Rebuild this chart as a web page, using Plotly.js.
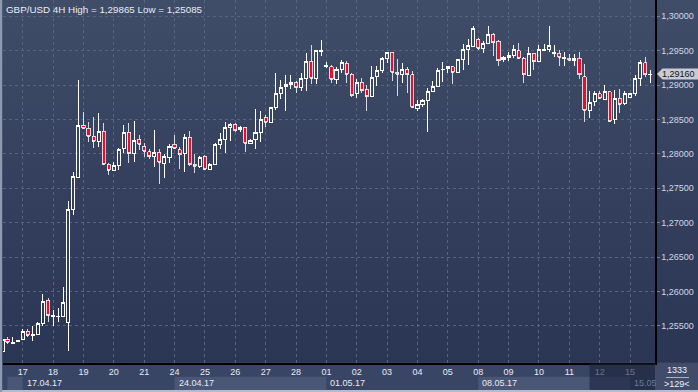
<!DOCTYPE html>
<html>
<head>
<meta charset="utf-8">
<script src="https://cdn.plot.ly/plotly-3.0.1.min.js"></script>
<style>
  html, body { margin: 0; padding: 0; background: #394564; }
  #wrap { position: relative; width: 698px; height: 392px; overflow: hidden;
    background: linear-gradient(180deg, #404d68 0px, #34405d 180px, #2a3653 362px, #394564 363px, #394564 390px, #b4bcc9 390px, #b4bcc9 392px); }
  #chart { position: absolute; left: 0; top: 0; width: 698px; height: 392px; }
  #chart .plot path, #chart .boxlayer path { shape-rendering: crispEdges !important; }
</style>
</head>
<body>
<div id="wrap"><div id="chart"></div></div>
<script>
// ---- data (GBP/USD, 4H candles, 129 bars) ----
const openP = [
1.25121, 1.25305, 1.25247, 1.25278, 1.25305, 1.25426, 1.25363, 1.25372, 1.25538, 1.25876,
1.25640, 1.25634, 1.25634, 1.25547, 1.27189, 1.27664, 1.28416, 1.28372, 1.28260, 1.28183,
1.28328, 1.27849, 1.27766, 1.27834, 1.28081, 1.28318, 1.28009, 1.28212, 1.28115, 1.28028,
1.27959, 1.28023, 1.27858, 1.27951, 1.28144, 1.28057, 1.28009, 1.28241, 1.27849, 1.27824,
1.27965, 1.27776, 1.27849, 1.28140, 1.28206, 1.28387, 1.28430, 1.28358, 1.28387, 1.28154,
1.28212, 1.28314, 1.28532, 1.28459, 1.28677, 1.28871, 1.28977, 1.29016, 1.29035, 1.28968,
1.29099, 1.29350, 1.29099, 1.29485, 1.29273, 1.29267, 1.29084, 1.29234, 1.29317, 1.29161,
1.28871, 1.29041, 1.28943, 1.28831, 1.29122, 1.29209, 1.29390, 1.29477, 1.29186, 1.29161,
1.29230, 1.29147, 1.28663, 1.28721, 1.28783, 1.28914, 1.28987, 1.29224, 1.29238, 1.29267,
1.29180, 1.29375, 1.29520, 1.29558, 1.29666, 1.29535, 1.29608, 1.29738, 1.29641, 1.29375,
1.29404, 1.29427, 1.29500, 1.29390, 1.29137, 1.29462, 1.29340, 1.29510, 1.29520, 1.29456,
1.29462, 1.29394, 1.29390, 1.29355, 1.29390, 1.29122, 1.28628, 1.28759, 1.28871, 1.28798,
1.28904, 1.28503, 1.28808, 1.28735, 1.28823, 1.28871, 1.29099, 1.29326, 1.29157
];
const highP = [
1.25320, 1.25343, 1.25334, 1.25290, 1.25450, 1.25450, 1.25498, 1.25552, 1.25959, 1.25906,
1.25731, 1.25756, 1.26061, 1.27315, 1.27741, 1.29074, 1.28609, 1.28464, 1.28536, 1.28599,
1.28449, 1.27863, 1.27887, 1.28081, 1.28420, 1.28445, 1.28478, 1.28270, 1.28163, 1.28067,
1.28347, 1.28067, 1.27994, 1.28140, 1.28275, 1.28096, 1.28289, 1.28333, 1.27994, 1.27970,
1.27980, 1.27863, 1.28154, 1.28308, 1.28464, 1.28445, 1.28445, 1.28406, 1.28387, 1.28217,
1.28648, 1.28628, 1.28565, 1.28677, 1.29180, 1.29074, 1.29147, 1.29147, 1.29064, 1.29172,
1.29462, 1.29583, 1.29510, 1.29656, 1.29340, 1.29292, 1.29267, 1.29365, 1.29355, 1.29172,
1.29089, 1.29099, 1.29001, 1.29278, 1.29282, 1.29404, 1.29485, 1.29485, 1.29379, 1.29317,
1.29267, 1.29209, 1.28783, 1.28798, 1.28953, 1.29060, 1.29244, 1.29331, 1.29277, 1.29277,
1.29385, 1.29597, 1.29666, 1.29865, 1.29680, 1.29645, 1.29859, 1.29753, 1.29656, 1.29423,
1.29485, 1.29583, 1.29616, 1.29404, 1.29549, 1.29472, 1.29583, 1.29597, 1.29860, 1.29583,
1.29510, 1.29477, 1.29448, 1.29448, 1.29485, 1.29302, 1.28914, 1.28919, 1.28914, 1.29001,
1.28904, 1.28929, 1.28939, 1.28919, 1.28881, 1.29147, 1.29365, 1.29404, 1.29219
];
const lowP = [
1.25085, 1.25241, 1.25237, 1.25271, 1.25295, 1.25334, 1.25281, 1.25363, 1.25503, 1.25561,
1.25503, 1.25561, 1.25625, 1.25140, 1.27108, 1.27654, 1.28362, 1.28177, 1.28090, 1.28096,
1.27839, 1.27693, 1.27751, 1.27766, 1.28009, 1.27872, 1.27882, 1.28057, 1.27955, 1.27926,
1.27814, 1.27563, 1.27654, 1.27872, 1.28071, 1.27780, 1.27741, 1.27828, 1.27718, 1.27791,
1.27766, 1.27771, 1.27839, 1.28071, 1.28017, 1.28192, 1.28314, 1.28323, 1.28032, 1.28144,
1.28071, 1.28177, 1.28387, 1.28449, 1.28638, 1.28798, 1.28628, 1.28939, 1.28890, 1.28919,
1.28919, 1.29016, 1.29016, 1.29427, 1.29244, 1.29026, 1.29012, 1.29172, 1.29035, 1.28823,
1.28817, 1.28890, 1.28628, 1.28831, 1.28991, 1.29172, 1.29317, 1.29064, 1.28846, 1.29026,
1.28881, 1.28667, 1.28628, 1.28686, 1.28314, 1.28919, 1.28977, 1.29049, 1.29181, 1.29012,
1.29172, 1.29219, 1.29292, 1.29549, 1.29510, 1.29462, 1.29597, 1.29427, 1.29282, 1.29340,
1.29355, 1.29390, 1.29375, 1.29035, 1.29132, 1.29219, 1.29340, 1.29500, 1.29485, 1.29413,
1.29282, 1.29282, 1.29355, 1.29282, 1.29089, 1.28468, 1.28526, 1.28696, 1.28798, 1.28798,
1.28468, 1.28435, 1.28599, 1.28711, 1.28808, 1.28842, 1.28991, 1.29113, 1.29035
];
const closeP = [
1.25305, 1.25262, 1.25266, 1.25284, 1.25421, 1.25363, 1.25382, 1.25538, 1.25862, 1.25654,
1.25654, 1.25644, 1.25843, 1.27189, 1.27674, 1.28416, 1.28372, 1.28256, 1.28183, 1.28328,
1.27849, 1.27766, 1.27834, 1.28067, 1.28318, 1.28009, 1.28198, 1.28140, 1.28038, 1.27959,
1.28023, 1.27878, 1.27965, 1.28115, 1.28081, 1.27988, 1.28241, 1.27839, 1.27824, 1.27955,
1.27776, 1.27849, 1.28140, 1.28206, 1.28387, 1.28430, 1.28337, 1.28387, 1.28154, 1.28192,
1.28314, 1.28493, 1.28459, 1.28677, 1.28871, 1.28968, 1.29016, 1.29041, 1.28968, 1.29099,
1.29350, 1.29099, 1.29496, 1.29500, 1.29288, 1.29084, 1.29234, 1.29331, 1.29161, 1.28846,
1.29041, 1.28919, 1.28831, 1.29113, 1.29219, 1.29390, 1.29477, 1.29186, 1.29161, 1.29230,
1.29147, 1.28677, 1.28721, 1.28783, 1.28914, 1.28987, 1.29219, 1.29234, 1.29267, 1.29186,
1.29375, 1.29520, 1.29583, 1.29826, 1.29535, 1.29608, 1.29738, 1.29616, 1.29355, 1.29404,
1.29437, 1.29520, 1.29390, 1.29147, 1.29462, 1.29340, 1.29520, 1.29520, 1.29583, 1.29467,
1.29404, 1.29404, 1.29360, 1.29390, 1.29147, 1.28638, 1.28750, 1.28871, 1.28808, 1.28904,
1.28474, 1.28808, 1.28721, 1.28871, 1.28871, 1.29099, 1.29326, 1.29147, 1.29160
];
const barIndex = openP.map((_, i) => i);

// day ticks (first 4H bar of each day)
const dayTickIdx = [4, 10, 16, 22, 28, 34, 40, 46, 52, 58, 64, 70, 76, 82, 88, 94, 100, 106, 112, 118, 124];
const dayLabels = ["17","18","19","20","21","24","25","26","27","28","01","02","03","04","05","08","09","10","11","12","15"];
// week row
const weekIdx = [4, 34, 64, 94, 124];
const weekLabels = ["17.04.17", "24.04.17", "01.05.17", "08.05.17", "15.05"];
const priceTicks = [1.255, 1.26, 1.265, 1.27, 1.275, 1.28, 1.285, 1.29, 1.295, 1.30];
const priceTickText = ["1,25500","1,26000","1,26500","1,27000","1,27500","1,28000","1,28500","1,29000","1,29500","1,30000"];
const lastPrice = 1.29160;
const lastPriceText = "1,29160";
const titleText = "GBP/USD 4H High = 1,29865 Low = 1,25085";
const barsTotal = "1333";
const barsVisible = "&gt;129&lt;";

const FONT = "Liberation Sans, Arial, sans-serif";
const PH = 363; // plot height in px (for paper conversions)
const py = v => (PH - v) / PH;        // pixel y -> paper y
const px = v => (v - 3) / 652;        // pixel x -> paper x

const trace = {
  type: 'candlestick',
  x: barIndex,
  open: openP, high: highP, low: lowP, close: closeP,
  whiskerwidth: 0,
  increasing: { line: { color: '#ffffff', width: 1 }, fillcolor: 'rgba(0,0,0,0)' },
  decreasing: { line: { color: '#ffffff', width: 0.8 }, fillcolor: '#ee0a2a' },
  hoverinfo: 'skip'
};

const shapes = [
  // light week boxes
  { type: 'rect', layer: 'below', xref: 'x', yref: 'paper', x0: 0.97, x1: 4, y0: py(390), y1: py(376.7), fillcolor: '#4a5676', line: { width: 0 } },
  { type: 'rect', layer: 'below', xref: 'x', yref: 'paper', x0: 34, x1: 64, y0: py(390), y1: py(376.7), fillcolor: '#4a5676', line: { width: 0 } },
  { type: 'rect', layer: 'below', xref: 'x', yref: 'paper', x0: 94, x1: 124, y0: py(390), y1: py(376.7), fillcolor: '#4a5676', line: { width: 0 } },
  // dark scroll overlay
  { type: 'rect', layer: 'above', xref: 'x', yref: 'paper', x0: 116, x1: 128.93, y0: py(390), y1: py(363.5), fillcolor: 'rgba(28,36,60,0.62)', line: { width: 0 } },
  // bottom-right box
  { type: 'rect', layer: 'below', xref: 'paper', yref: 'paper', x0: px(655), x1: px(698), y0: py(390), y1: py(363), fillcolor: '#404c6a', line: { width: 0 } },
  { type: 'line', layer: 'above', xref: 'paper', yref: 'paper', x0: px(666), x1: px(689), y0: py(377.5), y1: py(377.5), line: { color: '#aab3c4', width: 1 } },
  // left border
  { type: 'rect', layer: 'above', xref: 'paper', yref: 'paper', x0: px(0), x1: px(2.2), y0: py(392), y1: py(0), fillcolor: '#8e9ab0', line: { width: 0 } },
  // last price marker
  { type: 'path', layer: 'above', xref: 'paper', yref: 'y', xsizemode: 'pixel', ysizemode: 'pixel', xanchor: 1, yanchor: lastPrice,
    path: 'M2,0 L7.5,5.5 L44,5.5 L44,-5.5 L7.5,-5.5 Z', fillcolor: '#c8ccd2', line: { width: 0 } }
];

const annotations = [
  { text: titleText, xref: 'paper', yref: 'paper', x: px(3.5), y: py(2), xanchor: 'left', yanchor: 'top', showarrow: false,
    font: { family: FONT, size: 9.8, color: '#e8ecf4' } },
  { text: lastPriceText, xref: 'paper', yref: 'y', x: 1, y: lastPrice, xanchor: 'left', yanchor: 'middle', xshift: 5, showarrow: false,
    font: { family: FONT, size: 9, color: '#10141c' } },
  { text: barsTotal, xref: 'paper', yref: 'paper', x: px(677), y: py(370), xanchor: 'center', yanchor: 'middle', showarrow: false,
    font: { family: FONT, size: 9, color: '#eef1f6' } },
  { text: barsVisible, xref: 'paper', yref: 'paper', x: px(677), y: py(383.5), xanchor: 'center', yanchor: 'middle', showarrow: false,
    font: { family: FONT, size: 9, color: '#eef1f6' } }
];
weekIdx.forEach((w, k) => {
  annotations.push({ text: weekLabels[k], xref: 'x', yref: 'paper', x: w, y: py(383.3), xanchor: 'left', yanchor: 'middle', xshift: 2,
    showarrow: false, font: { family: FONT, size: 9, color: k === weekIdx.length - 1 ? '#6f7a92' : '#e6ebf3' } });
});

const layout = {
  width: 698, height: 392,
  margin: { l: 3, r: 43, t: 0, b: 29, pad: 0 },
  paper_bgcolor: 'rgba(0,0,0,0)', plot_bgcolor: 'rgba(0,0,0,0)',
  separators: ', ',
  showlegend: false,
  boxgap: 0.12,
  font: { family: FONT, size: 9, color: '#e6ebf3' },
  xaxis: {
    type: 'linear', range: [0.107, 128.93], fixedrange: true,
    tickmode: 'array', tickvals: dayTickIdx, ticktext: dayLabels,
    ticks: '', tickfont: { family: FONT, size: 9, color: '#e6ebf3' },
    showgrid: true, gridcolor: '#56647f', gridwidth: 1, griddash: '3px,3px',
    zeroline: false, showline: true, linecolor: '#000000', linewidth: 1.5,
    rangeslider: { visible: false }
  },
  yaxis: {
    side: 'right', range: [1.24961, 1.30237], fixedrange: true,
    tickmode: 'array', tickvals: priceTicks, ticktext: priceTickText,
    ticks: 'outside', ticklen: 3, tickcolor: '#5a86cc', tickwidth: 1,
    tickfont: { family: FONT, size: 9, color: '#cdd8ea' },
    showgrid: true, gridcolor: '#56647f', gridwidth: 1, griddash: '3px,3px',
    zeroline: false, showline: true, linecolor: '#000000', linewidth: 1.5
  },
  shapes: shapes,
  annotations: annotations
};

Plotly.newPlot('chart', [trace], layout, { staticPlot: true, displayModeBar: false });
</script>
</body>
</html>
